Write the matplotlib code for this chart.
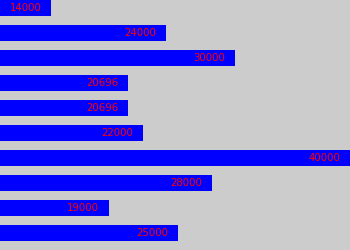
import matplotlib
matplotlib.use("Agg")
import matplotlib.pyplot as plt

values = [14000, 24000, 30000, 20696, 20696, 22000, 40000, 28000, 19000, 25000]
labels = ["14000", "24000", "30000", "20696", "20696", "22000", "40000", "28000", "19000", "25000"]
positions = list(range(len(values)))

fig = plt.figure(figsize=(3.5, 2.5), dpi=100)
fig.patch.set_facecolor("#CCCCCC")
ax = fig.add_axes([0, 0, 1, 1])
ax.set_facecolor("#CCCCCC")

ax.barh(positions, values, height=0.64, left=0, color="#0000FF")

for y, v, lab in zip(positions, values, labels):
    ax.annotate(lab, xy=(v, y), xytext=(-9.5, 0), textcoords="offset pixels",
                ha="right", va="center", color="#FF0000", fontsize=7.3)

ax.set_xlim(9565, 40000)
ax.set_ylim(9.68, -0.32)
ax.axis("off")

fig.savefig("out.png", dpi=100, facecolor=fig.get_facecolor())
